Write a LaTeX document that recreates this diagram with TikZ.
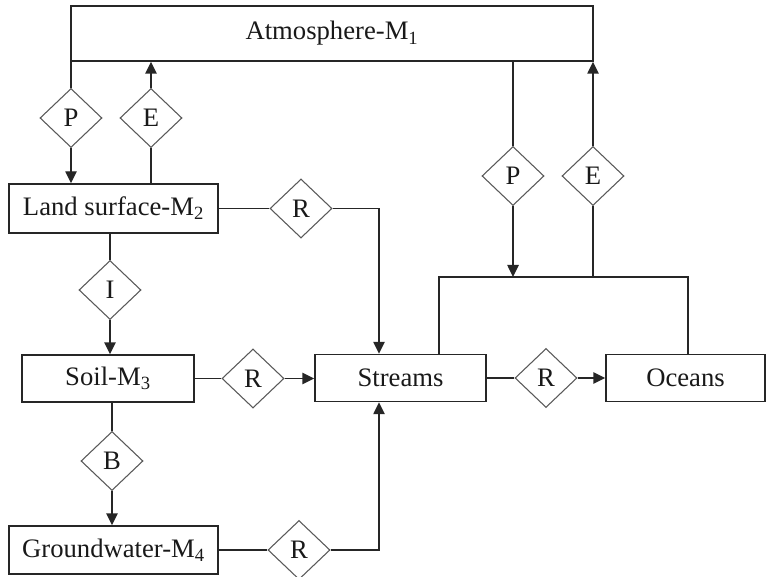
\documentclass[tikz,border=0pt]{standalone}
\usepackage{fontspec}
\setmainfont{Liberation Serif}
\usetikzlibrary{shapes.geometric,arrows.meta}
\begin{document}
\begin{tikzpicture}[x=0.75pt,y=-0.75pt,
  font=\fontsize{20}{23}\selectfont,
  box/.style={draw=black!85,line width=1.1pt,rectangle,inner sep=0pt,text=black!90},
  dia/.style={draw=black!65,line width=0.8pt,diamond,inner sep=0pt,minimum width=46.5pt,minimum height=44.25pt,text=black!90},
  conn/.style={draw=black!85,line width=1.1pt},
  arr/.style={conn,-{Triangle[length=9pt,width=8.5pt]}}]
\useasboundingbox (0,0) rectangle (767,577);
% boxes
\node[box,minimum width=391.5pt,minimum height=41.25pt] (atm) at (332,33.5) {Atmosphere-M\textsubscript{1}};
\node[box,minimum width=156.75pt,minimum height=36.75pt] (land) at (113.5,208.5) {Land surface-M\textsubscript{2}};
\node[box,minimum width=129pt,minimum height=35.25pt] (soil) at (108,378.5) {Soil-M\textsubscript{3}};
\node[box,minimum width=156.75pt,minimum height=36pt] (gw) at (113.5,550) {Groundwater-M\textsubscript{4}};
\node[box,minimum width=128.25pt,minimum height=35.25pt] (streams) at (400.5,378) {Streams};
\node[box,minimum width=119.25pt,minimum height=35.25pt] (oceans) at (685.5,378) {Oceans};
% diamonds
\node[dia] (dP1) at (71,118) {P};
\node[dia] (dE1) at (151,118) {E};
\node[dia] (dR1) at (301,208.5) {R};
\node[dia] (dI) at (110,290) {I};
\node[dia] (dR2) at (253,378.5) {R};
\node[dia] (dB) at (112,461) {B};
\node[dia] (dR3) at (299,550) {R};
\node[dia] (dP2) at (513,176) {P};
\node[dia] (dE2) at (593,176) {E};
\node[dia] (dR4) at (546,378) {R};
% junction
\coordinate (jL) at (439,277);
\coordinate (jR) at (688,277);
\coordinate (sx) at (379,0);
% left top
\draw[conn] (dP1 |- atm.south) -- (dP1.north);
\draw[arr] (dP1.south) -- (dP1 |- land.north);
\draw[conn] (dE1 |- land.north) -- (dE1.south);
\draw[arr] (dE1.north) -- (dE1 |- atm.south);
% land -> streams
\draw[conn] (land.east) -- (dR1.west);
\draw[arr] (dR1.east) -| (sx |- streams.north);
% land -> soil
\draw[conn] (dI |- land.south) -- (dI.north);
\draw[arr] (dI.south) -- (dI |- soil.north);
% soil -> streams
\draw[conn] (soil.east) -- (dR2.west);
\draw[arr] (dR2.east) -- (dR2.east -| streams.west);
% soil -> gw
\draw[conn] (dB |- soil.south) -- (dB.north);
\draw[arr] (dB.south) -- (dB |- gw.north);
% gw -> streams
\draw[conn] (gw.east) -- (dR3.west);
\draw[arr] (dR3.east) -| (sx |- streams.south);
% streams -> oceans
\draw[conn] (streams.east) -- (dR4.west);
\draw[arr] (dR4.east) -- (oceans.west);
% junction lines
\draw[conn] (jL |- streams.north) -- (jL) -- (jR) -- (jR |- oceans.north);
% right P/E
\draw[conn] (dP2 |- atm.south) -- (dP2.north);
\draw[arr] (dP2.south) -- (dP2 |- jL);
\draw[conn] (dE2 |- jL) -- (dE2.south);
\draw[arr] (dE2.north) -- (dE2 |- atm.south);
\end{tikzpicture}
\end{document}
